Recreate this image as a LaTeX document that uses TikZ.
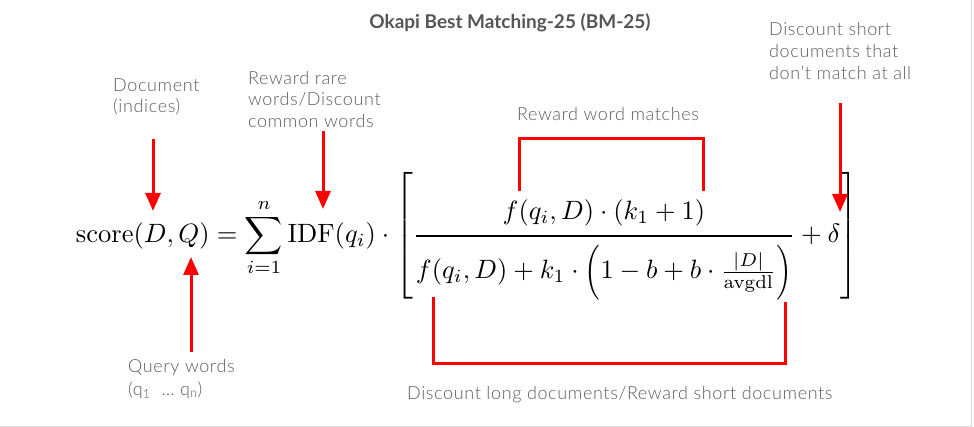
\documentclass[tikz,border=0pt]{standalone}
\usepackage{amsmath}
\usepackage{graphicx}
\usepackage[no-math]{fontspec}
\newfontfamily\labfont{Lato Light}[LetterSpace=3.5]
\newfontfamily\titlefont{Lato}
\usetikzlibrary{arrows.meta}
\definecolor{labgray}{HTML}{5E5E5E}
\definecolor{titlegray}{HTML}{555555}
\definecolor{framegray}{HTML}{DDDDDD}
\newcommand{\tallopen}{\mathopen{\vcenter{\hbox{\scalebox{1}[1.15]{$\Bigl($}}}}}
\newcommand{\tallclose}{\mathclose{\vcenter{\hbox{\scalebox{1}[1.15]{$\Bigr)$}}}}}
\tikzset{
  lab/.style={font=\labfont\fontsize{18pt}{22pt}\selectfont, text=labgray, inner sep=0pt, anchor=base west},
  redarrow/.style={draw=red, line width=3pt, -{Triangle[width=15pt,length=18pt]}},
  redbracket/.style={draw=red, line width=3pt, line join=miter}
}
\begin{document}
\begin{tikzpicture}[x=1pt,y=-1pt]
\useasboundingbox (0,0) rectangle (974,427);
\fill[white] (0,0) rectangle (974,427);
\draw[framegray, line width=1pt] (971,0) -- (971,426) -- (0,426);

% title
\node[font=\titlefont\bfseries\fontsize{19pt}{23pt}\selectfont, text=titlegray, inner sep=0pt, anchor=base] (title) at (510,29) {Okapi Best Matching-25 (BM-25)};

% formula
\node[inner sep=0pt] (formula) at (467,236) {\resizebox{782pt}{!}{$\displaystyle
\mathrm{score}(D,Q)=\sum_{i=1}^{n}\mathrm{IDF}(q_i)\cdot\left[\rule[-24pt]{0pt}{53pt}\frac{f(q_i,D)\cdot(k_1+1)\rule[-4.7pt]{0pt}{4.7pt}}{\rule{0pt}{14.8pt}f(q_i,D)+k_1\cdot\tallopen1-b+b\cdot\frac{|D|}{\mathrm{avgdl}}\tallclose}+\delta\right]$}};

% labels
\node[lab] (doc1) at (113,92) {Document};
\node[lab] (doc2) at (113,113) {(indices)};
\node[lab] (rr1) at (248,85) {Reward rare};
\node[lab] (rr2) at (248,106) {words/Discount};
\node[lab] (rr3) at (248,128) {common words};
\node[lab, anchor=base] (rwm) at (608,121) {Reward word matches};
\node[lab] (ds1) at (769,36) {Discount short};
\node[lab] (ds2) at (769,58) {documents that};
\node[lab] (ds3) at (769,80) {don’t match at all};
\node[lab] (qw1) at (128,373) {Query words};
\node[lab] (qw2) at (128,395) {(q\textsubscript{1}\ \ … q\textsubscript{n})};
\node[lab] (dl) at (407,399) {Discount long documents/Reward short documents};

% arrow coordinates
\coordinate (docS) at (153,139);  \coordinate (docE) at (153,211);
\coordinate (rrS) at (323,131);   \coordinate (rrE) at (323,209);
\coordinate (qwS) at (191,352);   \coordinate (qwE) at (191,257);
\coordinate (dsS) at (840,103);   \coordinate (dsE) at (840,212);

\draw[redarrow] (docS) -- (docE);
\draw[redarrow] (rrS) -- (rrE);
\draw[redarrow] (qwS) -- (qwE);
\draw[redarrow] (dsS) -- (dsE);

% brackets
\coordinate (numL) at (519,191); \coordinate (numR) at (703,191);
\draw[redbracket] (numL) -- (519,139) -- (703,139) -- (numR);
\coordinate (denL) at (433,297); \coordinate (denR) at (785,302);
\draw[redbracket] (denL) -- (433,363) -- (785,363) -- (denR);
\end{tikzpicture}
\end{document}
